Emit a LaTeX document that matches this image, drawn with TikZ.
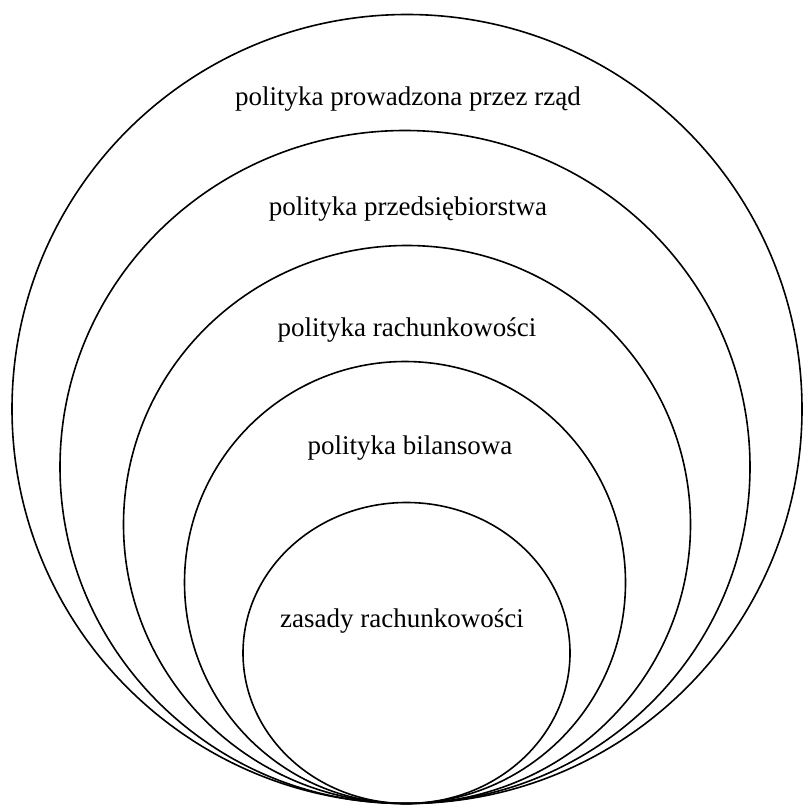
\documentclass[tikz,border=0pt]{standalone}
\usepackage{fontspec}
\setmainfont{Liberation Serif}
\begin{document}
\begin{tikzpicture}[x=1pt,y=-1pt,
  ring/.style={draw=black,line width=1.6pt},
  label/.style={anchor=base,inner sep=0pt,font=\fontsize{27}{32}\selectfont}]
\useasboundingbox[fill=white] (0,0) rectangle (803,805);
\draw[ring] (407,409) ellipse [x radius=395pt, y radius=394.5pt];
\draw[ring] (405,467) ellipse [x radius=345pt, y radius=336.5pt];
\draw[ring] (407,524.5) ellipse [x radius=283.5pt, y radius=279pt];
\draw[ring] (405,582.5) ellipse [x radius=220.5pt, y radius=221pt];
\draw[ring] (406.5,653) ellipse [x radius=163.5pt, y radius=150.5pt];
\node[label] (t1) at (408,106) {polityka prowadzona przez rząd};
\node[label] (t2) at (408,215) {polityka przedsiębiorstwa};
\node[label] (t3) at (407,336) {polityka rachunkowości};
\node[label] (t4) at (410,454) {polityka bilansowa};
\node[label] (t5) at (402,627) {zasady rachunkowości};
\end{tikzpicture}
\end{document}
